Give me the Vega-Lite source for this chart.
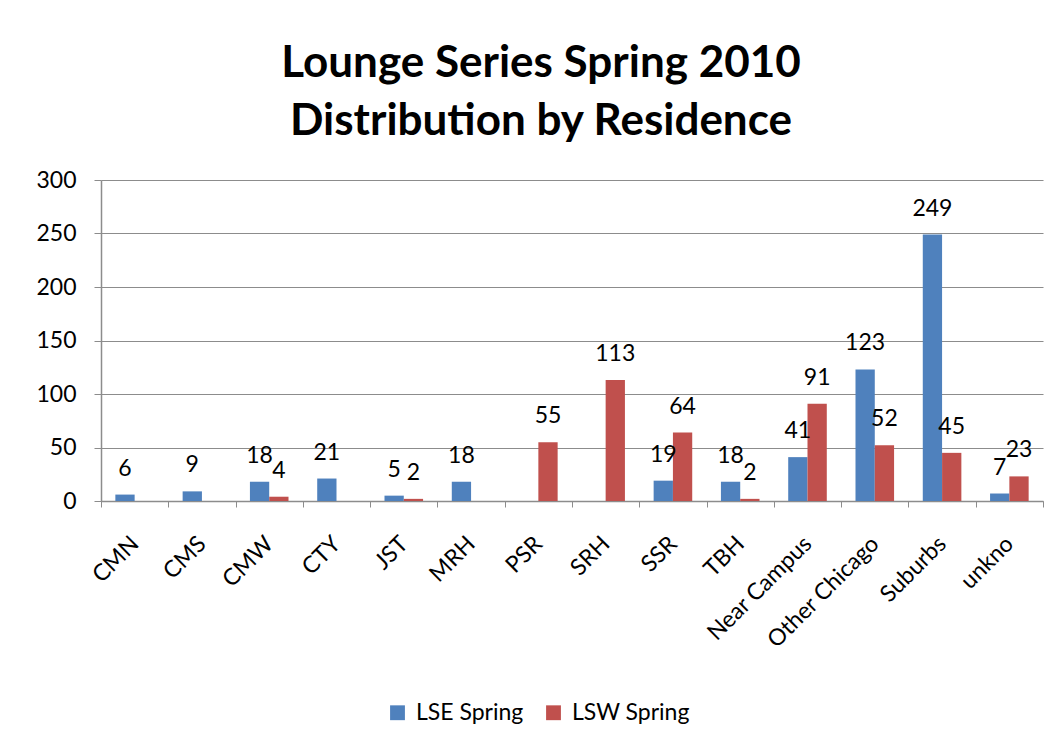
{
  "$schema": "https://vega.github.io/schema/vega-lite/v6.json",
  "width": 942,
  "height": 321,
  "autosize": {"type": "none"},
  "padding": {"left": 101, "top": 180, "right": 18, "bottom": 245},
  "background": "white",
  "title": {
    "text": ["Lounge Series Spring 2010", "Distribution by Residence"],
    "font": "Lato",
    "fontSize": 44,
    "fontWeight": "bold",
    "color": "#000000",
    "anchor": "middle",
    "dx": -31,
    "offset": 25,
    "lineHeight": 58
  },
  "data": {
    "values": [
      {"residence": "CMN", "series": "LSE Spring", "value": 6},
      {"residence": "CMS", "series": "LSE Spring", "value": 9},
      {"residence": "CMW", "series": "LSE Spring", "value": 18},
      {"residence": "CMW", "series": "LSW Spring", "value": 4},
      {"residence": "CTY", "series": "LSE Spring", "value": 21},
      {"residence": "JST", "series": "LSE Spring", "value": 5},
      {"residence": "JST", "series": "LSW Spring", "value": 2},
      {"residence": "MRH", "series": "LSE Spring", "value": 18},
      {"residence": "PSR", "series": "LSW Spring", "value": 55},
      {"residence": "SRH", "series": "LSW Spring", "value": 113},
      {"residence": "SSR", "series": "LSE Spring", "value": 19},
      {"residence": "SSR", "series": "LSW Spring", "value": 64},
      {"residence": "TBH", "series": "LSE Spring", "value": 18},
      {"residence": "TBH", "series": "LSW Spring", "value": 2},
      {"residence": "Near Campus", "series": "LSE Spring", "value": 41},
      {"residence": "Near Campus", "series": "LSW Spring", "value": 91},
      {"residence": "Other Chicago", "series": "LSE Spring", "value": 123},
      {"residence": "Other Chicago", "series": "LSW Spring", "value": 52},
      {"residence": "Suburbs", "series": "LSE Spring", "value": 249},
      {"residence": "Suburbs", "series": "LSW Spring", "value": 45},
      {"residence": "unkno", "series": "LSE Spring", "value": 7},
      {"residence": "unkno", "series": "LSW Spring", "value": 23}
    ]
  },
  "encoding": {
    "x": {
      "field": "residence",
      "type": "nominal",
      "sort": ["CMN", "CMS", "CMW", "CTY", "JST", "MRH", "PSR", "SRH", "SSR", "TBH", "Near Campus", "Other Chicago", "Suburbs", "unkno"],
      "scale": {"paddingInner": 0, "paddingOuter": 0},
      "axis": {
        "title": null,
        "labelAngle": -45,
        "labelAlign": "right",
        "labelBaseline": "middle",
        "labelPadding": 33,
        "labelFont": "Lato",
        "labelFontSize": 23,
        "labelColor": "#000000",
        "tickBand": "extent",
        "tickSize": 6,
        "tickColor": "#8c8c8c",
        "domainColor": "#8c8c8c",
        "domainWidth": 1.5,
        "grid": false
      }
    },
    "xOffset": {
      "field": "series",
      "type": "nominal",
      "scale": {"domain": ["LSE Spring", "LSW Spring"], "paddingInner": 0, "paddingOuter": 0.744}
    },
    "y": {
      "field": "value",
      "type": "quantitative",
      "scale": {"domain": [0, 300], "nice": false},
      "axis": {
        "title": null,
        "values": [0, 50, 100, 150, 200, 250, 300],
        "labelFont": "Lato",
        "labelFontSize": 23,
        "labelColor": "#000000",
        "labelPadding": 18,
        "tickSize": 7,
        "tickColor": "#8c8c8c",
        "domainColor": "#8c8c8c",
        "domainWidth": 1.5,
        "grid": true,
        "gridColor": "#8c8c8c",
        "gridWidth": 1.2
      }
    }
  },
  "layer": [
    {
      "mark": {"type": "bar"},
      "encoding": {
        "color": {
          "field": "series",
          "type": "nominal",
          "scale": {"domain": ["LSE Spring", "LSW Spring"], "range": ["#4F81BD", "#C0504D"]},
          "legend": {
            "title": null,
            "orient": "none",
            "direction": "horizontal",
            "legendX": 285,
            "legendY": 521,
            "symbolType": "square",
            "symbolSize": 220,
            "symbolStrokeWidth": 0,
            "labelFont": "Lato",
            "labelFontSize": 23,
            "labelColor": "#000000",
            "columnPadding": 18,
            "labelOffset": 7
          }
        }
      }
    },
    {
      "mark": {"type": "text", "baseline": "alphabetic", "dy": -19, "font": "Lato", "fontSize": 23, "color": "#000000"},
      "encoding": {
        "text": {"field": "value", "type": "quantitative"}
      }
    }
  ],
  "config": {
    "view": {"stroke": null}
  }
}
